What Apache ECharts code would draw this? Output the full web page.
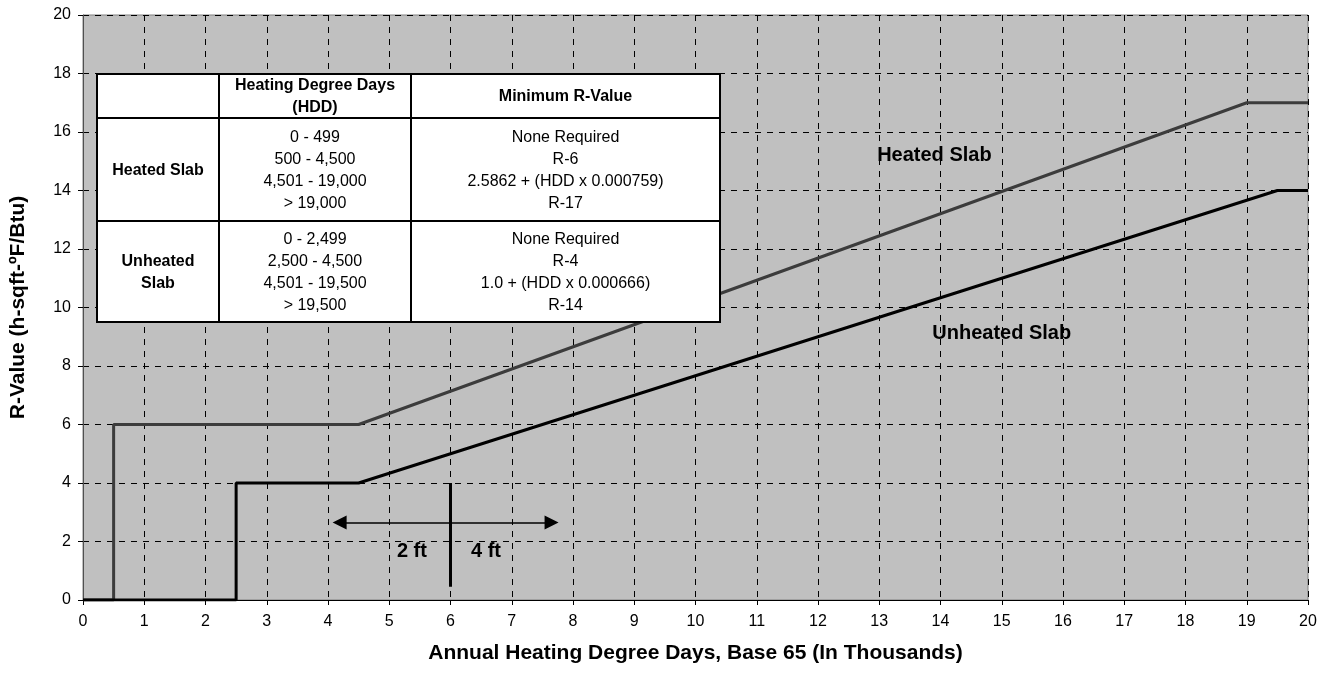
<!DOCTYPE html>
<html>
<head>
<meta charset="utf-8">
<script src="https://cdn.jsdelivr.net/npm/echarts@6/dist/echarts.min.js"></script>
<style>
html,body{margin:0;padding:0;background:#fff;}
#c{width:1333px;height:684px;}
</style>
</head>
<body>
<div id="c"></div>
<script>
// ---- Data ----
const heatedX = [0, 0.5, 0.5, 4.5, 19, 20];
const heatedY = [0, 0, 6, 6, 17, 17];
const unheatedX = [0, 2.5, 2.5, 4.5, 19.5, 20];
const unheatedY = [0, 0, 4, 4, 14, 14];
const xTicks = {min: 0, max: 20, interval: 1};
const yTicks = {min: 0, max: 20, interval: 2};
const seriesNames = ['Heated Slab', 'Unheated Slab'];
const labelPos = [[13.9, 15.2], [15.0, 9.1]];
const arrowY = 2.65;
const arrowLeftX = 4.19;
const arrowRightX = 7.65;
const dividerX = 6;
const dividerTop = 4;
const dividerBottom = 0.45;
const ftLabels = [{text: '2 ft', x: 5.37, y: 1.65}, {text: '4 ft', x: 6.58, y: 1.65}];
const tableHeader = ['', 'Heating Degree Days\n(HDD)', 'Minimum R-Value'];
const tableRows = [
  ['Heated Slab', '0 - 499\n500 - 4,500\n4,501 - 19,000\n> 19,000', 'None Required\nR-6\n2.5862 + (HDD x 0.000759)\nR-17'],
  ['Unheated\nSlab', '0 - 2,499\n2,500 - 4,500\n4,501 - 19,500\n> 19,500', 'None Required\nR-4\n1.0 + (HDD x 0.000666)\nR-14']
];

function zip(xs, ys){ return xs.map((x,i)=>[x, ys[i]]); }

const FONT = "'Liberation Sans', Arial, Helvetica, sans-serif";

// table layout (pixels)
const tL = 97, tR = 720, tT = 74, tB = 322;
const colX = [tL, 219, 411, tR];
const rowY = [tT, 118, 221, tB];

const graphics = [];
graphics.push({type:'rect', shape:{x:tL, y:tT, width:tR-tL, height:tB-tT}, style:{fill:'#fff', stroke:'#000', lineWidth:2}, z:100});
for (let i=1;i<3;i++) {
  graphics.push({type:'line', shape:{x1:colX[i], y1:tT, x2:colX[i], y2:tB}, style:{stroke:'#000', lineWidth:2}, z:101});
  graphics.push({type:'line', shape:{x1:tL, y1:rowY[i], x2:tR, y2:rowY[i]}, style:{stroke:'#000', lineWidth:2}, z:101});
}
function cellText(txt, c, r, bold){
  graphics.push({type:'text', z:102, style:{
    text: txt, x:(colX[c]+colX[c+1])/2, y:(rowY[r]+rowY[r+1])/2 + 1,
    align:'center', verticalAlign:'middle', fontFamily: FONT,
    fontSize: 16, fontWeight: bold?'bold':'normal', lineHeight: 22, fill:'#000'}});
}
tableHeader.forEach((t,c)=>{ if(t) cellText(t, c, 0, true); });
tableRows.forEach((row,r)=>{
  row.forEach((t,c)=> cellText(t, c, r+1, c===0));
});

const chart = echarts.init(document.getElementById('c'));
chart.setOption({
  animation: false,
  backgroundColor: '#fff',
  textStyle: {fontFamily: FONT},
  grid: {left: 82, right: 25, top: 15, bottom: 84, show: true, backgroundColor: '#C0C0C0', borderColor: '#808080', borderWidth: 1},
  xAxis: {
    type: 'value', min: xTicks.min, max: xTicks.max, interval: xTicks.interval,
    name: 'Annual Heating Degree Days, Base 65 (In Thousands)',
    nameLocation: 'middle', nameGap: 43,
    nameTextStyle: {fontFamily: FONT, fontSize: 21, fontWeight: 'bold', color: '#000'},
    axisLine: {show: true, onZero: false, lineStyle: {color: '#000', width: 1}},
    axisTick: {show: true, length: 5, lineStyle: {color: '#000'}},
    axisLabel: {fontFamily: FONT, fontSize: 16, color: '#000', margin: 14},
    splitLine: {show: true, lineStyle: {color: '#000', type: [6, 6], width: 1}}
  },
  yAxis: {
    type: 'value', min: yTicks.min, max: yTicks.max, interval: yTicks.interval,
    name: 'R-Value (h-sqft-ºF/Btu)',
    nameLocation: 'middle', nameGap: 54,
    nameTextStyle: {fontFamily: FONT, fontSize: 21, fontWeight: 'bold', color: '#000'},
    axisLine: {show: true, onZero: false, lineStyle: {color: '#505050', width: 1}},
    axisTick: {show: true, length: 5, lineStyle: {color: '#000'}},
    axisLabel: {fontFamily: FONT, fontSize: 16, color: '#000', margin: 12},
    splitLine: {show: true, lineStyle: {color: '#000', type: [6, 6], width: 1}}
  },
  series: [
    {name: seriesNames[0], type: 'line', data: zip(heatedX, heatedY), showSymbol: false, symbol: 'none',
     lineStyle: {color: '#3c3c3c', width: 3}, z: 3},
    {name: seriesNames[1], type: 'line', data: zip(unheatedX, unheatedY), showSymbol: false, symbol: 'none',
     lineStyle: {color: '#000', width: 3}, z: 4},
    {type: 'lines', coordinateSystem: 'cartesian2d', z: 5,
     symbol: ['none', 'triangle'], symbolSize: [13, 14],
     lineStyle: {color: '#000', width: 1.5, opacity: 1},
     data: [{coords: [[dividerX, arrowY], [arrowLeftX, arrowY]]}, {coords: [[dividerX, arrowY], [arrowRightX, arrowY]]}]},
    {type: 'lines', coordinateSystem: 'cartesian2d', z: 5, symbol: ['none','none'],
     lineStyle: {color: '#000', width: 3, opacity: 1},
     data: [{coords: [[dividerX, dividerTop], [dividerX, dividerBottom]]}]}
  ]
});

// data-space text annotations, placed through the chart's own scales
const annos = seriesNames.map((n,i)=>({text: n, pos: labelPos[i]})).concat(ftLabels.map(f=>({text: f.text, pos: [f.x, f.y]})));
annos.forEach(a=>{
  const p = chart.convertToPixel({gridIndex: 0}, a.pos);
  graphics.push({type:'text', z:90, style:{text: a.text, x: p[0], y: p[1], align:'center', verticalAlign:'middle',
    fontFamily: FONT, fontSize: 20, fontWeight: 'bold', fill: '#000'}});
});
chart.setOption({graphic: graphics});
</script>
</body>
</html>
